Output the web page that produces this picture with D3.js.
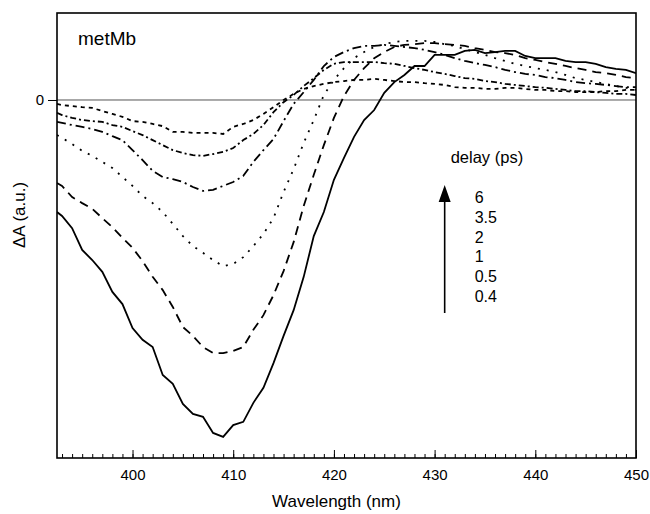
<!DOCTYPE html>
<html>
<head>
<meta charset="utf-8">
<script src="https://cdn.jsdelivr.net/npm/d3@7"></script>
<style>
  body { margin: 0; background: #fff; }
  svg { font-family: "Liberation Sans", Arial, sans-serif; }
  .axis path, .axis line { stroke: #000; }
</style>
</head>
<body>
<svg width="650" height="514"></svg>
<script>
// wavelengths (nm) shared by every delay trace
var wavelengths = [392.5, 393, 394, 395, 396, 397, 398, 399, 400, 401, 402, 403, 404, 405, 406, 407, 408, 409,
    410, 411, 412, 413, 414, 415, 416, 417, 418, 419, 420, 421, 422, 423, 424, 425, 426, 427, 428, 429,
    430, 431, 432, 433, 434, 435, 436, 437, 438, 439, 440, 441, 442, 443, 444, 445, 446, 447, 448, 449, 450];

var delays = ["0.4", "0.5", "1", "2", "3.5", "6"];
var legendLabels = ["6", "3.5", "2", "1", "0.5", "0.4"];

// ΔA (a.u.)
var dA_04 = [-31.3, -32.4, -35.8, -41.9, -44.7, -48.0, -53.6, -57.0, -63.7, -67.0, -69.0, -76.8, -79.3, -84.9, -87.7, -88.5, -93.0, -94.1,
    -90.8, -89.9, -84.6, -80.4, -73.5, -65.9, -58.7, -49.4, -38.0, -31.3, -22.3, -16.2, -10.3, -5.6, -2.8, 2.0, 5.0, 7.0, 9.5, 9.5,
    12.6, 12.6, 12.6, 13.7, 14.0, 13.1, 13.4, 13.7, 13.7, 12.3, 11.7, 11.7, 11.7, 10.9, 10.6, 10.6, 10.1, 9.2, 8.7, 8.4, 7.5];
var dA_05 = [-23.2, -24.0, -27.1, -28.8, -30.4, -33.0, -35.5, -38.5, -41.3, -45.0, -49.4, -53.1, -57.8, -63.4, -65.9, -69.0, -70.7, -70.7,
    -70.1, -69.0, -64.2, -60.1, -54.5, -47.8, -39.7, -29.6, -20.9, -12.6, -5.0, 1.1, 5.6, 8.9, 11.7, 13.4, 14.8, 15.4, 15.6, 15.9,
    15.9, 15.6, 15.4, 15.1, 14.5, 14.0, 13.4, 13.1, 12.6, 11.7, 11.2, 10.6, 10.1, 9.5, 8.9, 8.4, 7.8, 7.5, 7.0, 6.4, 6.1];
var dA_1 = [-9.8, -10.6, -12.3, -14.2, -15.6, -17.3, -19.0, -21.5, -24.0, -26.8, -28.8, -31.3, -34.6, -38.0, -40.8, -42.7, -44.7, -46.4,
    -45.8, -43.9, -40.8, -37.4, -33.0, -25.7, -19.3, -12.0, -5.6, 1.4, 5.6, 8.9, 11.7, 13.4, 14.8, 15.6, 16.2, 16.5, 16.5, 16.5,
    16.2, 15.6, 15.1, 14.2, 13.4, 12.6, 11.7, 10.9, 10.1, 9.5, 8.9, 8.4, 7.8, 7.0, 6.1, 5.6, 5.0, 4.5, 3.9, 3.4, 2.8];
var dA_2 = [-6.1, -6.4, -7.0, -7.5, -8.1, -8.9, -10.1, -11.2, -14.0, -16.8, -19.8, -21.5, -22.1, -22.9, -24.3, -25.4, -25.1, -24.0,
    -22.9, -21.2, -17.3, -14.0, -10.9, -5.9, -1.1, 2.2, 5.6, 9.5, 12.0, 13.4, 14.5, 15.1, 15.1, 15.4, 15.1, 14.8, 14.5, 14.0,
    13.4, 12.6, 11.7, 10.9, 10.3, 9.8, 9.2, 8.4, 7.8, 7.3, 7.0, 6.4, 6.1, 5.6, 5.0, 4.7, 4.5, 4.2, 3.9, 3.6, 3.6];
var dA_35 = [-3.6, -4.2, -5.0, -5.6, -5.9, -6.1, -7.0, -7.5, -8.7, -9.8, -11.2, -12.6, -14.0, -14.8, -15.4, -15.6, -15.1, -14.5,
    -13.4, -11.2, -9.5, -7.0, -3.4, -0.6, 1.4, 3.9, 6.1, 8.4, 10.1, 10.6, 10.6, 10.6, 10.6, 10.3, 10.1, 9.5, 8.9, 8.4,
    7.8, 7.3, 6.7, 6.1, 5.9, 5.3, 5.0, 4.5, 4.2, 3.9, 3.6, 3.4, 3.1, 2.8, 2.5, 2.5, 2.2, 2.0, 1.7, 1.7, 1.4];
var dA_6 = [-1.1, -1.4, -1.7, -2.0, -2.2, -3.1, -3.9, -4.7, -5.9, -6.1, -6.7, -7.3, -8.9, -8.9, -9.2, -9.2, -9.2, -9.5,
    -7.5, -6.7, -5.6, -3.9, -2.0, 0.0, 1.7, 3.1, 3.9, 4.5, 5.0, 5.3, 5.6, 5.6, 5.9, 5.6, 5.3, 5.0, 5.0, 4.7,
    4.5, 4.2, 3.6, 3.4, 3.4, 3.1, 3.1, 3.4, 3.4, 3.1, 2.8, 2.8, 2.5, 2.5, 2.2, 2.2, 2.2, 2.5, 2.5, 2.8, 2.8];

var xTicks = [400, 410, 420, 430, 440, 450];

var traces = [dA_04, dA_05, dA_1, dA_2, dA_35, dA_6];
var dashes = [null, "9,6", "2,7", "9,4,2,4", "6,3,2,3", "4,4"];

var svg = d3.select("svg");
var margin = {top: 13, right: 14, bottom: 56, left: 57};
var width = 650 - margin.left - margin.right;
var height = 514 - margin.top - margin.bottom;

var g = svg.append("g")
    .attr("transform", "translate(" + margin.left + "," + margin.top + ")");

var x = d3.scaleLinear().domain([392.5, 450]).range([0, width]);
var y = d3.scaleLinear().domain([-100, 24.3]).range([height, 0]);

g.append("clipPath").attr("id", "clip")
  .append("rect").attr("width", width).attr("height", height);

// zero line
g.append("line")
    .attr("x1", 0).attr("x2", width)
    .attr("y1", y(0)).attr("y2", y(0))
    .attr("stroke", "#555").attr("stroke-width", 1);

// traces
var line = d3.line()
    .x(function(d, i) { return x(wavelengths[i]); })
    .y(function(d) { return y(d); });

g.append("g").attr("clip-path", "url(#clip)")
  .selectAll("path.trace")
  .data(traces)
  .enter().append("path")
    .attr("class", "trace")
    .attr("d", line)
    .attr("fill", "none")
    .attr("stroke", "#000")
    .attr("stroke-width", 1.8)
    .attr("stroke-linecap", "butt")
    .attr("stroke-dasharray", function(d, i) { return dashes[i]; });

// x axis: inward minor ticks every nm, major every 10
g.append("g")
    .attr("class", "axis x")
    .attr("transform", "translate(0," + height + ")")
    .call(d3.axisBottom(x).tickValues(d3.range(393, 451, 1)).tickSize(-4).tickFormat(""))
    .call(function(a) { a.select(".domain").remove(); });

g.append("g")
    .attr("class", "axis x")
    .attr("transform", "translate(0," + height + ")")
    .call(d3.axisBottom(x).tickValues(xTicks).tickSize(-8).tickPadding(11).tickFormat(d3.format("d")))
    .call(function(a) {
        a.select(".domain").remove();
        a.selectAll("text").attr("font-size", 15).attr("fill", "#000");
    });

// y axis: single 0 tick, outward
g.append("g")
    .attr("class", "axis y")
    .call(d3.axisLeft(y).tickValues([0]).tickSize(9).tickPadding(4))
    .call(function(a) {
        a.select(".domain").remove();
        a.selectAll("text").attr("font-size", 15).attr("fill", "#000");
    });

// frame
g.append("rect")
    .attr("width", width).attr("height", height)
    .attr("fill", "none").attr("stroke", "#000").attr("stroke-width", 1.6);

// axis titles
svg.append("text")
    .attr("x", margin.left + width / 2 - 10).attr("y", 507)
    .attr("text-anchor", "middle").attr("font-size", 17)
    .text("Wavelength (nm)");

svg.append("text")
    .attr("transform", "translate(25," + 215 + ") rotate(-90)")
    .attr("text-anchor", "middle").attr("font-size", 17)
    .text("ΔA (a.u.)");

// sample label
g.append("text")
    .attr("x", 21).attr("y", 32)
    .attr("font-size", 19)
    .text("metMb");

// delay legend with arrow
var lg = g.append("g").attr("transform", "translate(" + (x(431)) + ",0)");
lg.append("text").attr("x", 6).attr("y", 150).attr("font-size", 16.5).text("delay (ps)");

var ly = d3.scalePoint().domain(legendLabels).range([190, 289]);
lg.selectAll("text.lab")
  .data(legendLabels)
  .enter().append("text")
    .attr("class", "lab")
    .attr("x", 30).attr("y", function(d) { return ly(d); })
    .attr("font-size", 16)
    .text(function(d) { return d; });

lg.append("line")
    .attr("x1", 0).attr("x2", 0)
    .attr("y1", 300).attr("y2", 186)
    .attr("stroke", "#000").attr("stroke-width", 1.6);
lg.append("path")
    .attr("d", "M0,172 L-6,189 L6,189 Z")
    .attr("fill", "#000");
</script>
</body>
</html>
